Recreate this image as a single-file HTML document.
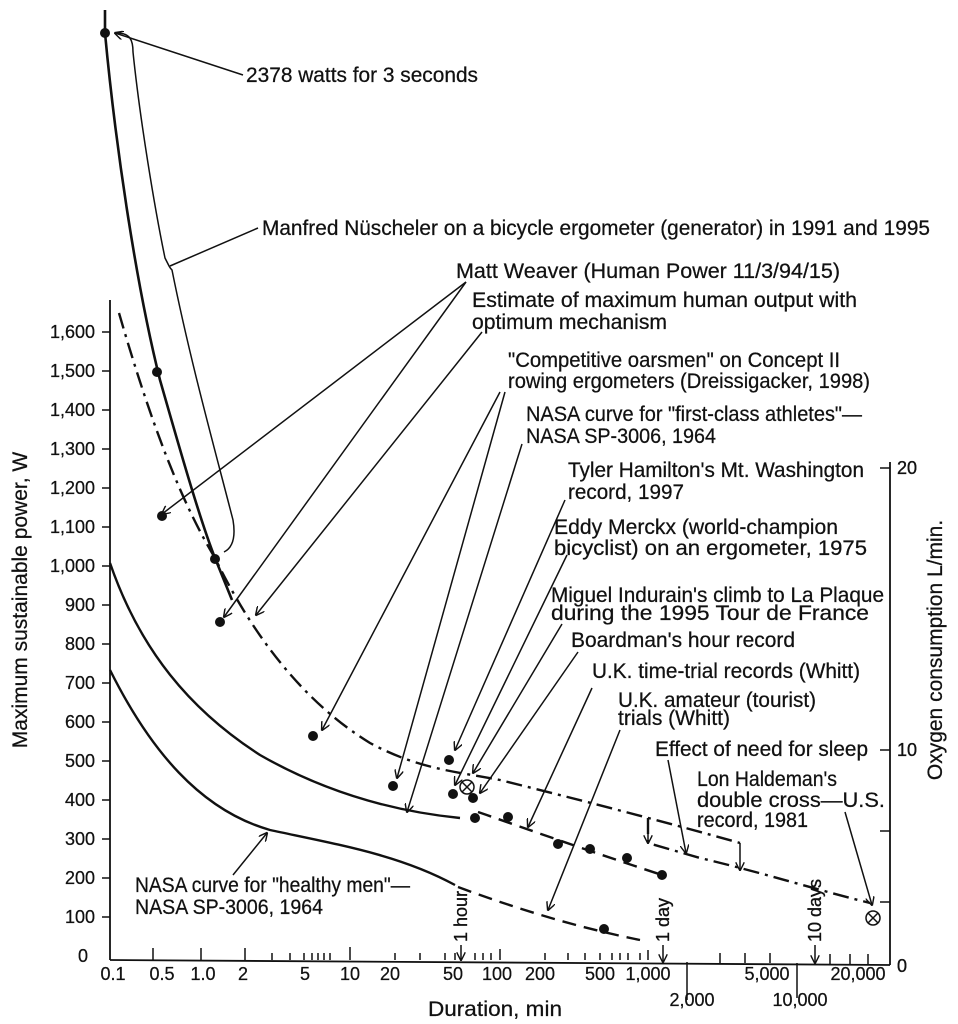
<!DOCTYPE html>
<html><head><meta charset="utf-8"><style>
body{margin:0;background:#fff}
svg{display:block}
text{font-family:"Liberation Sans",Arial,sans-serif;fill:#111;stroke:#111;stroke-width:0.25}
.a{font-size:21px}
.t{font-size:18px;stroke-width:0.35}
</style></head><body>
<svg width="958" height="1024" viewBox="0 0 958 1024" xmlns="http://www.w3.org/2000/svg">
<defs><marker id="ar" viewBox="0 0 10 10" refX="9" refY="5" markerWidth="9" markerHeight="9" orient="auto-start-reverse" markerUnits="userSpaceOnUse"><path d="M0,0 L10,5 L0,10" fill="none" stroke="#111" stroke-width="1.6"/></marker></defs>
<rect width="958" height="1024" fill="#fff"/>
<g stroke="#111" fill="none">
<path d="M110,300 V960" stroke-width="1.8"/>
<path d="M110,960 L890,965" stroke-width="1.8"/>
<path d="M890,462 V965" stroke-width="1.8"/>
<g stroke-width="1.5">
<path d="M102,332H110M102,371H110M102,410H110M102,449H110M102,488H110M102,527H110M102,566H110M102,605H110M102,644H110M102,683H110M102,722H110M102,761H110M102,800H110M102,839H110M102,878H110M102,917H110"/>
<path d="M880,468H890M880,750H890M880,831H890M880,902H890"/>
<path d="M153,960V948M201,960V948M245,960V948M272,960V953M290,960V953M304,960V953M312,960V953M318,960V953M324,960V953M330,960V953M350,960V947M395,960V953M420,960V953M445,960V953M455,960V953M475,960V953M483,960V953M491,960V953M500,960V949M545,960V953M568,960V953M585,960V953M600,960V953M612,960V953M620,960V953M628,960V953M640,960V953M648,960V950M687,962V1000M720,963V953M745,963V953M770,963V953M797,963V998M830,964V954M850,964V954M868,964V954"/>
</g>
<path d="M110,563 C140,650 190,710 260,755 C330,795 400,812 460,818" stroke-width="2.4"/>
<path d="M110,670 C150,750 200,810 270,830 C340,845 400,855 455,885" stroke-width="2.4"/>
<path d="M458,887 C520,910 580,928 640,940" stroke-width="2.4" stroke-dasharray="14,8"/>
<path d="M105,10 L105,33 C115,140 135,280 160,380 C180,450 200,520 215,558 L232,600" stroke-width="2.6"/>
<path d="M119,313 C150,420 180,500 215,558 C250,630 300,700 370,743 C420,770 460,772 500,780 C560,795 640,815 740,843" stroke-width="2.4" stroke-dasharray="16,6,3,6"/>
<path d="M648,818V843 L700,858 C760,872 810,888 870,903" stroke-width="2.4" stroke-dasharray="16,6,3,6"/>
<path d="M478,812 C530,830 580,848 662,875" stroke-width="2.4" stroke-dasharray="14,8"/>
<path d="M117,33 C130,33 133,40 133,52 C140,120 155,210 165,258 C170,268 170,268 172,270 C190,360 215,450 233,520 C236,538 232,548 224,552" stroke-width="1.5"/>
<path d="M258,228 L170,266" stroke-width="1.5"/>
<g stroke-width="1.5" marker-end="url(#ar)">
<path d="M243,75 L115,33"/>
<path d="M466,282 L162,514"/>
<path d="M466,282 L224,617"/>
<path d="M482,332 L256,615"/>
<path d="M500,392 L322,730"/>
<path d="M505,392 L397,778"/>
<path d="M522,444 L407,812"/>
<path d="M565,500 L455,750"/>
<path d="M567,555 L455,785"/>
<path d="M562,624 L473,773"/>
<path d="M578,652 L480,793"/>
<path d="M592,688 L528,827"/>
<path d="M620,730 L548,910"/>
<path d="M668,760 L686,853"/>
<path d="M845,812 L872,905"/>
<path d="M233,875 L267,833"/>
<path d="M648,818 L648,843"/>
<path d="M740,843 L740,870"/>
<path d="M461,945 L461,960"/>
<path d="M663,945 L663,962"/>
<path d="M815,945 L815,963"/>
</g>
</g>
<g fill="#111">
<circle cx="105" cy="33" r="5"/><circle cx="157" cy="372" r="5"/><circle cx="162" cy="516" r="5"/>
<circle cx="215" cy="559" r="5"/><circle cx="220" cy="622" r="5"/><circle cx="313" cy="736" r="5"/>
<circle cx="393" cy="786" r="5"/><circle cx="449" cy="760" r="5"/><circle cx="453" cy="794" r="5"/>
<circle cx="473" cy="798" r="5"/><circle cx="475" cy="818" r="5"/><circle cx="508" cy="817" r="5"/>
<circle cx="558" cy="844" r="5"/><circle cx="590" cy="849" r="5"/><circle cx="627" cy="858" r="5"/>
<circle cx="662" cy="875" r="5"/><circle cx="604" cy="929" r="5"/>
</g>
<g stroke="#111" fill="#fff" stroke-width="1.5">
<circle cx="467" cy="787" r="7"/><path d="M462,782L472,792M472,782L462,792"/>
<circle cx="873" cy="918" r="7"/><path d="M868,913L878,923M878,913L868,923"/>
</g>
<g class="t" text-anchor="end">
<text x="95" y="338">1,600</text><text x="95" y="377">1,500</text><text x="95" y="416">1,400</text><text x="95" y="455">1,300</text><text x="95" y="494">1,200</text><text x="95" y="533">1,100</text><text x="95" y="572">1,000</text><text x="95" y="611">900</text><text x="95" y="650">800</text><text x="95" y="689">700</text><text x="95" y="728">600</text><text x="95" y="767">500</text><text x="95" y="806">400</text><text x="95" y="845">300</text><text x="95" y="884">200</text><text x="95" y="923">100</text><text x="88" y="962">0</text>
</g>
<text class="t" x="897" y="474">20</text><text class="t" x="897" y="756">10</text><text class="t" x="897" y="972">0</text>
<text class="a" transform="translate(27,600) rotate(-90)" text-anchor="middle">Maximum sustainable power, W</text>
<text class="a" transform="translate(942,650) rotate(-90)" text-anchor="middle">Oxygen consumption L/min.</text>
<g class="t" text-anchor="middle">
<text x="113" y="980">0.1</text><text x="162" y="980">0.5</text><text x="203" y="980">1.0</text><text x="243" y="980">2</text><text x="305" y="980">5</text><text x="350" y="980">10</text><text x="390" y="980">20</text><text x="453" y="980">50</text><text x="497" y="980">100</text><text x="540" y="980">200</text><text x="600" y="980">500</text><text x="648" y="980">1,000</text><text x="767" y="980">5,000</text><text x="858" y="980">20,000</text>
<text x="692" y="1006">2,000</text><text x="800" y="1006">10,000</text>
</g>
<text class="a" x="428" y="1016" textLength="134" lengthAdjust="spacingAndGlyphs">Duration, min</text>
<text class="t" transform="translate(467,942) rotate(-90)">1 hour</text>
<text class="t" transform="translate(669,942) rotate(-90)">1 day</text>
<text class="t" transform="translate(821,942) rotate(-90)">10 days</text>
<g class="a">
<text x="246" y="82" textLength="232" lengthAdjust="spacingAndGlyphs">2378 watts for 3 seconds</text>
<text x="262" y="235" textLength="668" lengthAdjust="spacingAndGlyphs">Manfred Nüscheler on a bicycle ergometer (generator) in 1991 and 1995</text>
<text x="456" y="278" textLength="384" lengthAdjust="spacingAndGlyphs">Matt Weaver (Human Power 11/3/94/15)</text>
<text x="472" y="307" textLength="385" lengthAdjust="spacingAndGlyphs">Estimate of maximum  human output with</text>
<text x="472" y="329" textLength="195" lengthAdjust="spacingAndGlyphs">optimum mechanism</text>
<text x="508" y="367" textLength="332" lengthAdjust="spacingAndGlyphs">"Competitive oarsmen" on Concept II</text>
<text x="508" y="388" textLength="362" lengthAdjust="spacingAndGlyphs">rowing ergometers (Dreissigacker, 1998)</text>
<text x="526" y="421" textLength="336" lengthAdjust="spacingAndGlyphs">NASA curve for "first-class athletes"—</text>
<text x="526" y="443" textLength="190" lengthAdjust="spacingAndGlyphs">NASA SP-3006, 1964</text>
<text x="568" y="477" textLength="296" lengthAdjust="spacingAndGlyphs">Tyler Hamilton's Mt. Washington</text>
<text x="568" y="499" textLength="116" lengthAdjust="spacingAndGlyphs">record, 1997</text>
<text x="554" y="534" textLength="284" lengthAdjust="spacingAndGlyphs">Eddy Merckx (world-champion</text>
<text x="554" y="555" textLength="313" lengthAdjust="spacingAndGlyphs">bicyclist) on an ergometer, 1975</text>
<text x="551" y="602" textLength="333" lengthAdjust="spacingAndGlyphs">Miguel Indurain's climb to La Plaque</text>
<text x="551" y="620" textLength="318" lengthAdjust="spacingAndGlyphs">during the 1995 Tour de France</text>
<text x="571" y="647" textLength="224" lengthAdjust="spacingAndGlyphs">Boardman's hour record</text>
<text x="592" y="678" textLength="268" lengthAdjust="spacingAndGlyphs">U.K. time-trial records (Whitt)</text>
<text x="618" y="707" textLength="198" lengthAdjust="spacingAndGlyphs">U.K. amateur (tourist)</text>
<text x="618" y="725" textLength="112" lengthAdjust="spacingAndGlyphs">trials (Whitt)</text>
<text x="655" y="756" textLength="213" lengthAdjust="spacingAndGlyphs">Effect of need for sleep</text>
<text x="697" y="786" textLength="140" lengthAdjust="spacingAndGlyphs">Lon Haldeman's</text>
<text x="697" y="807" textLength="188" lengthAdjust="spacingAndGlyphs">double cross—U.S.</text>
<text x="697" y="827" textLength="111" lengthAdjust="spacingAndGlyphs">record, 1981</text>
<text x="135" y="892" textLength="275" lengthAdjust="spacingAndGlyphs">NASA curve for "healthy men"—</text>
<text x="135" y="914" textLength="188" lengthAdjust="spacingAndGlyphs">NASA SP-3006, 1964</text>
</g>
</svg>
</body></html>
